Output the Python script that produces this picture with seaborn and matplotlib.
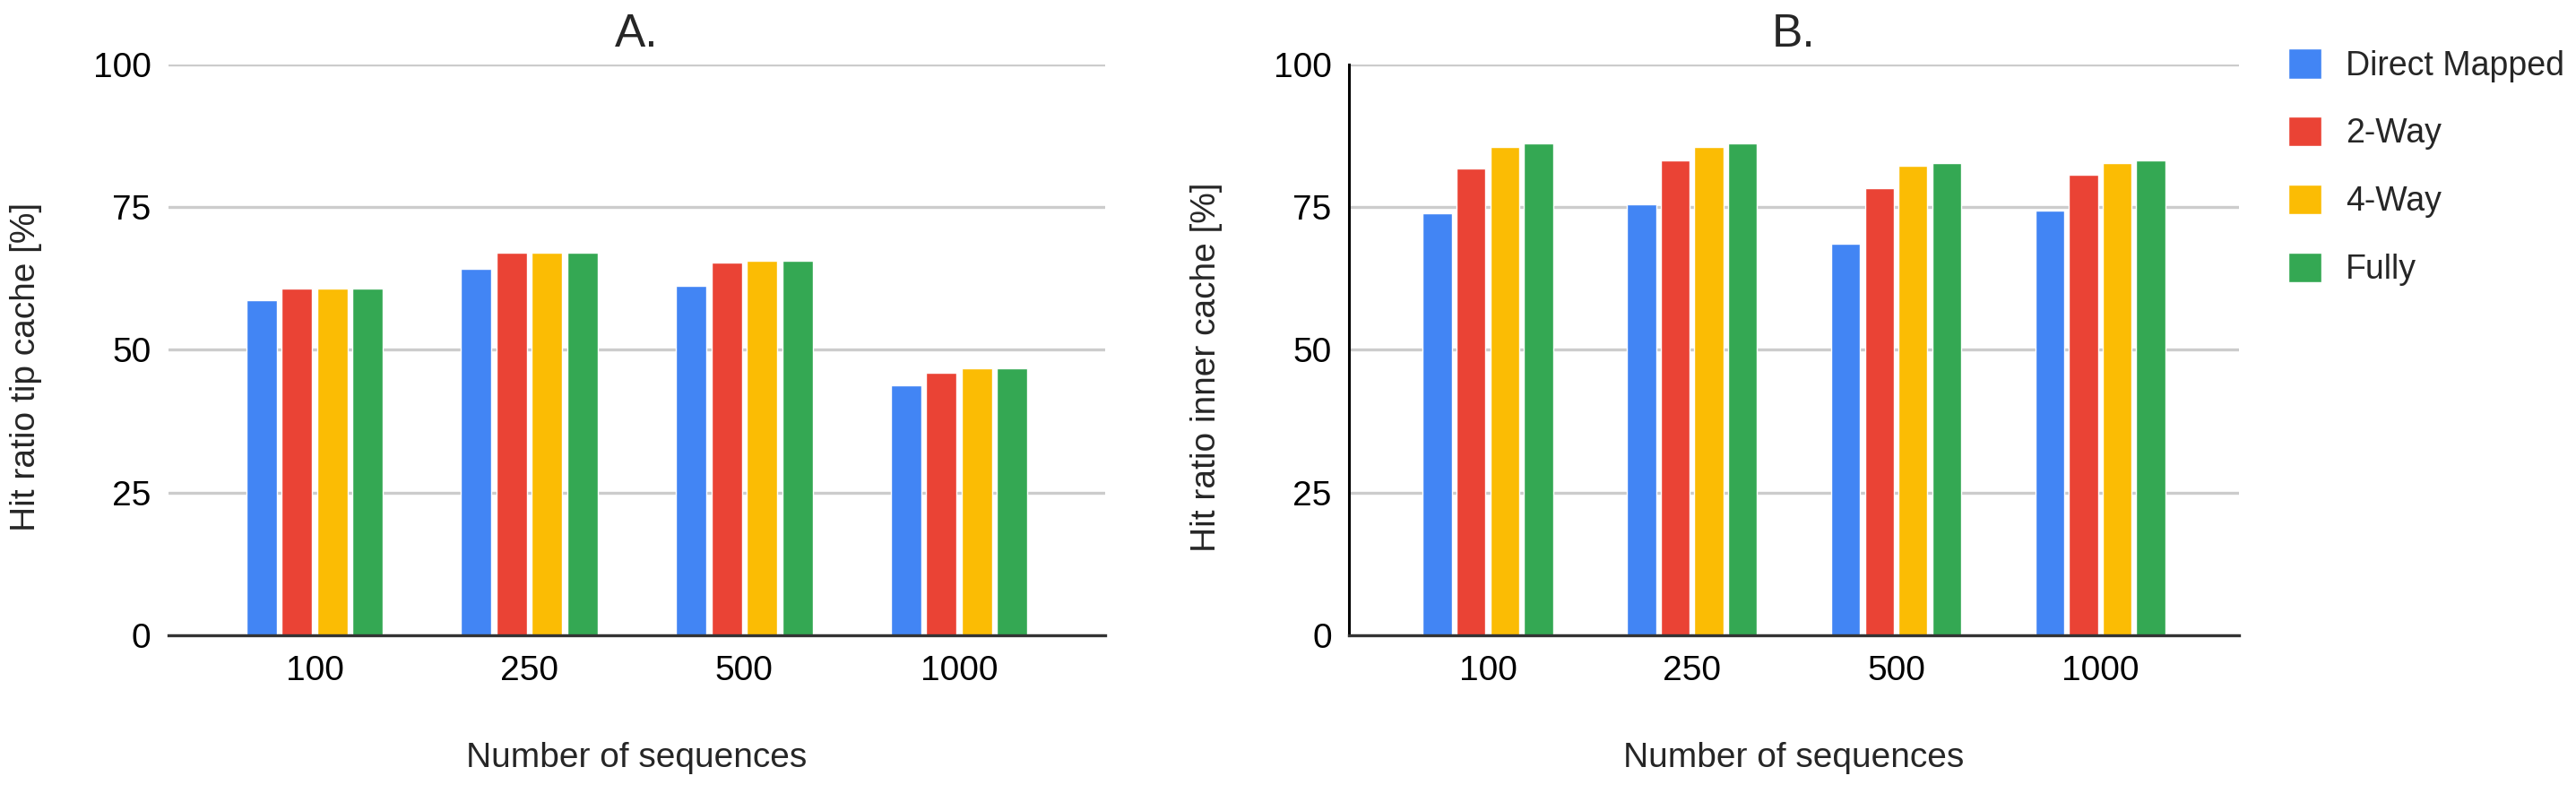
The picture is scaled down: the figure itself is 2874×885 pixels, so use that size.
import matplotlib
matplotlib.use("Agg")
import matplotlib.pyplot as plt
from matplotlib.patches import Patch
import seaborn as sns
import pandas as pd

# data
sequences = ["100", "250", "500", "1000"]
cache_types = ["Direct Mapped", "2-Way", "4-Way", "Fully"]
tip_direct = [58.7, 64.2, 61.2, 43.7]
tip_2way = [60.7, 67.0, 65.2, 46.0]
tip_4way = [60.7, 67.0, 65.6, 46.7]
tip_fully = [60.7, 67.0, 65.6, 46.7]
inner_direct = [73.9, 75.4, 68.6, 74.4]
inner_2way = [81.7, 83.2, 78.3, 80.7]
inner_4way = [85.5, 85.5, 82.2, 82.7]
inner_fully = [86.1, 86.1, 82.7, 83.2]
colors = ["#4285F4", "#EA4335", "#FBBC04", "#34A853"]


def to_long(series):
    rows = []
    for cache, vals in zip(cache_types, series):
        for seq, v in zip(sequences, vals):
            rows.append({"seq": seq, "cache": cache, "hit": v})
    return pd.DataFrame(rows)


df_tip = to_long([tip_direct, tip_2way, tip_4way, tip_fully])
df_inner = to_long([inner_direct, inner_2way, inner_4way, inner_fully])

sns.set_style("white")
plt.rcParams["font.family"] = ["Liberation Sans", "DejaVu Sans"]

fig = plt.figure(figsize=(28.74, 8.85), dpi=100)
ax_a = fig.add_axes([0.0654, 0.1989, 0.3636, 0.7201])
ax_b = fig.add_axes([0.5237, 0.1989, 0.3455, 0.7201])

panels = [(ax_a, df_tip, "A.", "Hit ratio tip cache [%]", -0.135),
          (ax_b, df_inner, "B.", "Hit ratio inner cache [%]", -0.142)]

for ax, df, title, ylabel, ylab_x in panels:
    sns.barplot(data=df, x="seq", y="hit", hue="cache", order=sequences,
                hue_order=cache_types, palette=colors, saturation=1,
                width=0.66, gap=0.14, legend=False, ax=ax)
    ax.set_ylim(0, 100)
    ax.set_xlim(-0.68, 3.68)
    ax.set_yticks([0, 25, 50, 75, 100])
    ax.yaxis.grid(True, color="#cccccc", lw=2.4)
    ax.set_axisbelow(True)
    for s in ["top", "right"]:
        ax.spines[s].set_visible(False)
    ax.spines["bottom"].set_color("#333333")
    ax.spines["bottom"].set_linewidth(2.4)
    ax.tick_params(axis="both", length=0, labelsize=28, colors="black")
    ax.tick_params(axis="y", pad=14)
    ax.tick_params(axis="x", pad=16)
    ax.set_title(title, fontsize=37, pad=14)
    ax.set_xlabel("Number of sequences", fontsize=28)
    ax.set_ylabel(ylabel, fontsize=28)
    ax.xaxis.set_label_coords(0.5, -0.187)
    ax.yaxis.set_label_coords(ylab_x, 0.47)

ax_a.spines["left"].set_visible(False)
ax_b.spines["left"].set_color("black")
ax_b.spines["left"].set_linewidth(2.2)

handles = [Patch(facecolor=c, label=l) for c, l in zip(colors, cache_types)]
fig.legend(handles=handles, loc="upper left", bbox_to_anchor=(0.8883, 0.939),
           frameon=False, fontsize=27, handlelength=1.0, handleheight=1.0,
           labelspacing=1.02, handletextpad=0.7, borderpad=0, borderaxespad=0)

fig.savefig("out.png", dpi=100)
